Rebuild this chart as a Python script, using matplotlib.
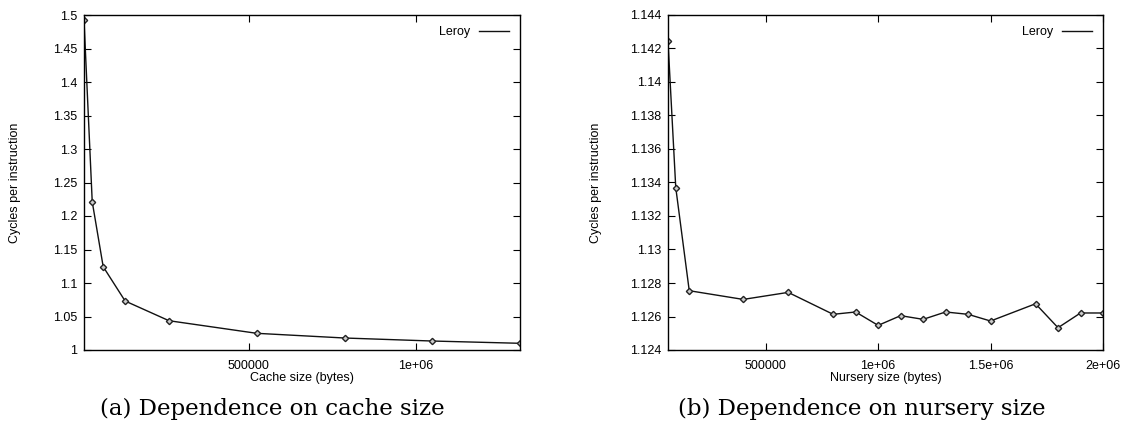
import matplotlib
matplotlib.use("Agg")
import matplotlib.pyplot as plt
from matplotlib.ticker import FuncFormatter, MultipleLocator

# (a) cache size sweep
cache_size = [8192, 32768, 65536, 131072, 262144, 524288, 786432, 1048576, 1310720]
cache_cpi = [1.4925, 1.2213, 1.1243, 1.0731, 1.0437, 1.0249, 1.0179, 1.0134, 1.0100]

# (b) nursery size sweep
nursery_size = [65536, 100000, 160000, 400000, 600000, 800000, 900000, 1000000,
                1100000, 1200000, 1300000, 1400000, 1500000, 1700000, 1800000,
                1900000, 2000000]
nursery_cpi = [1.14243, 1.13370, 1.12754, 1.12702, 1.12744, 1.12613, 1.12627,
               1.12547, 1.12605, 1.12583, 1.12627, 1.12613, 1.12573, 1.12676,
               1.12533, 1.12621, 1.12621]

series_name = "Leroy"
ylabel = "Cycles per instruction"
xlabels = ["Cache size (bytes)", "Nursery size (bytes)"]
captions = ["(a) Dependence on cache size", "(b) Dependence on nursery size"]

plt.rcParams['font.family'] = ['Liberation Sans', 'DejaVu Sans']

fig = plt.figure(figsize=(11.24, 4.28), dpi=100)
ax1 = fig.add_axes([84/1124, 78/428, 436/1124, 335/428])
ax2 = fig.add_axes([668/1124, 78/428, 435/1124, 335/428])

fmt = FuncFormatter(lambda v, p: "%g" % v)


def draw(ax, x, y, xlabel, ylim, ystep, xticks, ylpad):
    ax.plot(x, y, color="#111111", lw=1.0, marker="D", ms=3.2,
            mfc="#cccccc", mec="#222222", mew=1.0, label=series_name)
    ax.set_xlim(x[0], x[-1])
    ax.set_ylim(*ylim)
    ax.yaxis.set_major_locator(MultipleLocator(ystep))
    ax.set_xticks(xticks)
    ax.xaxis.set_major_formatter(fmt)
    ax.yaxis.set_major_formatter(fmt)
    ax.tick_params(direction="in", length=5, width=0.8, top=True, right=True,
                   labelsize=9)
    ax.tick_params(axis="x", pad=7)
    ax.tick_params(axis="y", pad=5)
    for s in ax.spines.values():
        s.set_linewidth(1.0)
    ax.set_xlabel(xlabel, fontsize=9, labelpad=0)
    ax.set_ylabel(ylabel, fontsize=9, labelpad=ylpad)
    leg = ax.legend(loc="upper right", frameon=False, fontsize=9,
                    handlelength=2.4, markerfirst=False, borderaxespad=0.5,
                    handletextpad=0.7)
    for h in leg.legend_handles:
        h.set_marker("")


draw(ax1, cache_size, cache_cpi, xlabels[0], (1.0, 1.5), 0.05, [500000, 1000000], 23)
draw(ax2, nursery_size, nursery_cpi, xlabels[1], (1.124, 1.144), 0.002,
     [500000, 1000000, 1500000, 2000000], 20)

fig.text(272/1124, 1 - 409/428, captions[0], ha="center", va="center",
         fontsize=16.5, family="DejaVu Serif")
fig.text(862/1124, 1 - 409/428, captions[1], ha="center", va="center",
         fontsize=16.5, family="DejaVu Serif")

fig.savefig("out.png", dpi=100)
